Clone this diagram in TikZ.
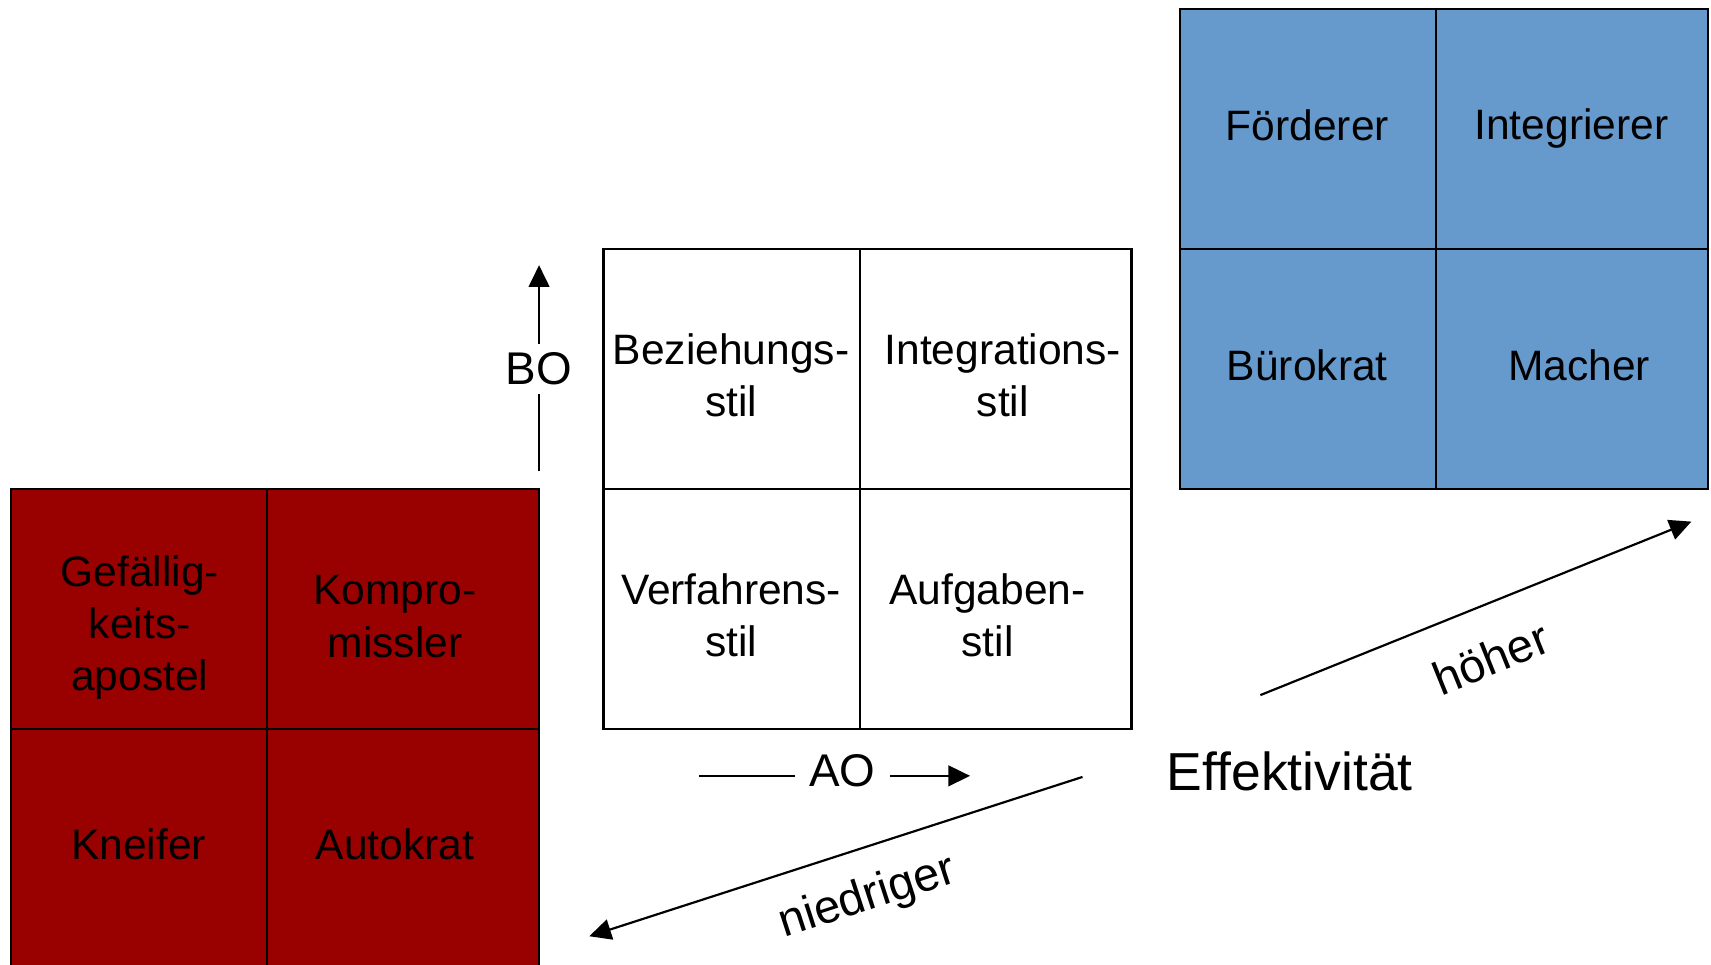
\documentclass[tikz,border=0pt]{standalone}
\usepackage{fontspec}
\setmainfont{Liberation Sans}
\usetikzlibrary{arrows.meta}
\definecolor{darkred}{HTML}{990000}
\definecolor{steel}{HTML}{6699CC}
\begin{document}
\begin{tikzpicture}[x=0.5pt,y=-0.5pt,
  gridline/.style={draw=black,line width=1pt},
  celltext/.style={align=center,font=\fontsize{19.5}{24}\selectfont,inner sep=0pt},
  axislbl/.style={fill=white,inner xsep=6.5pt,inner ysep=4pt,font=\fontsize{21}{25}\selectfont},
  difflbl/.style={font=\fontsize{21.5}{25}\selectfont,inner sep=0pt},
  arr/.style={line width=1pt,-{Triangle[length=10pt,width=9.5pt]}}]
\useasboundingbox (0,0) rectangle (1568,884);
% red grid
\fill[darkred] (10,448) rectangle (494,888);
\draw[gridline] (10,448) rectangle (494,888);
\draw[gridline] (245,448) -- (245,888);
\draw[gridline] (10,668) -- (494,668);
% white grid
\fill[white] (553,228) rectangle (1037,668);
\draw[gridline] (553,228) rectangle (1037,668);
\draw[gridline] (788,228) -- (788,668);
\draw[gridline] (553,448) -- (1037,448);
% blue grid
\fill[steel] (1081,8) rectangle (1565,448);
\draw[gridline] (1081,8) rectangle (1565,448);
\draw[gridline] (1316,8) -- (1316,448);
\draw[gridline] (1081,228) -- (1565,228);
% red texts
\node[celltext] (gef) at (128,575) {Gefällig-\\keits-\\apostel};
\node[celltext] (kom) at (362,565) {Kompro-\\missler};
\node[celltext] (kne) at (127,774) {Kneifer};
\node[celltext] (aut) at (362,774) {Autokrat};
% white texts
\node[celltext] (bez) at (670,344) {Beziehungs-\\stil};
\node[celltext] (int) at (919,344) {Integrations-\\stil};
\node[celltext] (ver) at (670,564) {Verfahrens-\\stil};
\node[celltext] (auf) at (905,564) {Aufgaben-\\stil};
% blue texts
\node[celltext] (foe) at (1198,115) {Förderer};
\node[celltext] (ing) at (1440,118) {Integrierer};
\node[celltext] (bue) at (1198,335) {Bürokrat};
\node[celltext] (mac) at (1447,335) {Macher};
% axes
\coordinate (bo1) at (494,432);
\coordinate (bo2) at (494,243);
\draw[arr] (bo1) -- (bo2);
\node[axislbl] (BO) at (494,338) {BO};
\coordinate (ao1) at (641,711);
\coordinate (ao2) at (889,711);
\draw[arr] (ao1) -- (ao2);
\node[axislbl] (AO) at (772,706) {AO};
% effectiveness
\node[font=\fontsize{24.5}{28}\selectfont,inner sep=0pt] (eff) at (1182,707) {Effektivität};
\coordinate (h1) at (1155,637);
\coordinate (h2) at (1550,478);
\draw[arr] (h1) -- (h2);
\node[difflbl,rotate=22] (hoe) at (1366,603) {höher};
\coordinate (n1) at (992,712);
\coordinate (n2) at (540,858);
\draw[arr] (n1) -- (n2);
\node[difflbl,rotate=18] (nie) at (795,823) {niedriger};
\end{tikzpicture}
\end{document}
